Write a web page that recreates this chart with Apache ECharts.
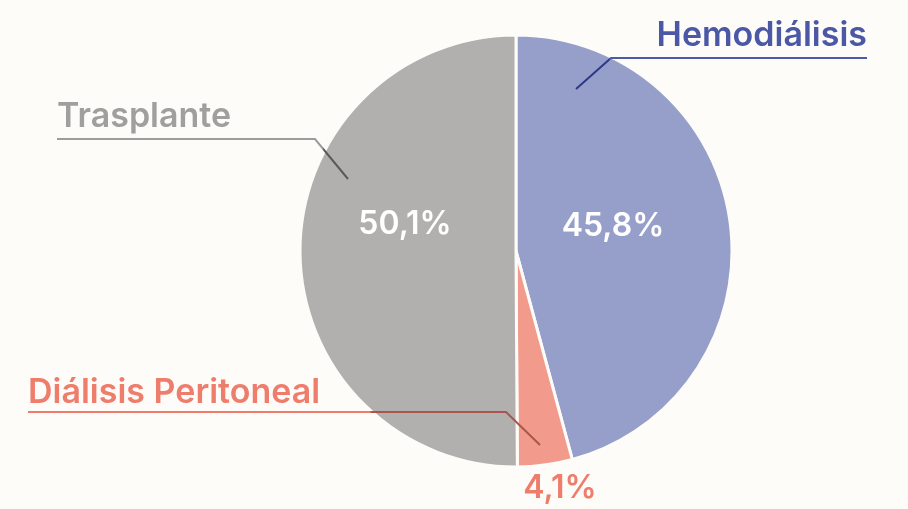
<!DOCTYPE html>
<html>
<head>
<meta charset="utf-8">
<script src="https://cdn.jsdelivr.net/npm/echarts@6/dist/echarts.min.js"></script>
<style>
  html, body { margin: 0; padding: 0; background: #fdfcf9; }
  #chart { width: 908px; height: 509px; }
</style>
</head>
<body>
<div id="chart"></div>
<script>
// datos
const categories = ["Hemodiálisis", "Diálisis Peritoneal", "Trasplante"];
const values = [45.8, 4.1, 50.1];

// estilos
const sliceColors = ["#959fca", "#f29a8b", "#b1b0ae"];
const nameColors = ["#4b58a6", "#ef7d6c", "#a09f9d"];
const lineLight = ["#4b5ba8", "#f07b6a", "#9d9c9a"];
const lineDark = ["#2c3885", "#a8564b", "#5a5a59"];
const bg = "#fdfcf9";

// posiciones de etiquetas (valor)
const valuePos = [[613, 226], [560, 488], [405, 224]];
// posiciones de etiquetas (nombre) y líneas guía
const namePos = [
  { x: 867, y: 36, align: "right", line: [[576, 89], [611, 58], [867, 58]], split: 0.12 },
  { x: 28, y: 393, align: "left", line: [[540, 445], [506, 412], [28, 412]], split: 0.33 },
  { x: 57, y: 117, align: "left", line: [[348, 179], [315, 139], [57, 139]], split: 0.09 },
];

const chart = echarts.init(document.getElementById("chart"));

const fmt = (v) => v.toFixed(1).replace(".", ",") + "%";

const lineGradient = (i) => {
  const s = namePos[i].split;
  // la parte dentro de la porción se ve más oscura
  if (namePos[i].align === "right") {
    return new echarts.graphic.LinearGradient(0, 0, 1, 0, [
      { offset: 0, color: lineDark[i] },
      { offset: s, color: lineDark[i] },
      { offset: s + 0.005, color: lineLight[i] },
      { offset: 1, color: lineLight[i] },
    ]);
  }
  return new echarts.graphic.LinearGradient(0, 0, 1, 0, [
    { offset: 0, color: lineLight[i] },
    { offset: 1 - s - 0.005, color: lineLight[i] },
    { offset: 1 - s, color: lineDark[i] },
    { offset: 1, color: lineDark[i] },
  ]);
};

const baseData = categories.map((name, i) => ({
  name: name,
  value: values[i],
  itemStyle: { color: sliceColors[i] },
}));

const nameData = categories.map((name, i) => ({
  name: name,
  value: values[i],
  label: { color: nameColors[i] },
  labelLine: { lineStyle: { color: lineGradient(i), width: 2 } },
}));

const option = {
  backgroundColor: bg,
  animation: false,
  series: [
    {
      type: "pie",
      z: 2,
      center: [516, 251],
      radius: 216,
      startAngle: 90,
      clockwise: true,
      avoidLabelOverlap: false,
      silent: true,
      itemStyle: { borderColor: bg, borderWidth: 3 },
      label: {
        show: true,
        position: "inside",
        fontFamily: "Inter",
        fontWeight: 600,
        fontSize: 32,
        color: "#ffffff",
        formatter: (p) => fmt(p.value),
      },
      labelLine: { show: false },
      labelLayout: (p) => {
        const pos = valuePos[p.dataIndex];
        return { x: pos[0], y: pos[1], align: "center", verticalAlign: "middle" };
      },
      data: baseData.map((d, i) =>
        i === 1 ? Object.assign({}, d, { label: { color: "#ef7d6c" } }) : d
      ),
    },
    {
      type: "pie",
      z: 5,
      center: [516, 251],
      radius: 216,
      startAngle: 90,
      clockwise: true,
      avoidLabelOverlap: false,
      silent: true,
      itemStyle: { color: "rgba(0,0,0,0)", borderWidth: 0 },
      emphasis: { disabled: true },
      label: {
        show: true,
        position: "outside",
        fontFamily: "Inter",
        fontWeight: 600,
        fontSize: 34,
        formatter: "{b}",
      },
      labelLine: { show: true, length: 10, length2: 10 },
      labelLayout: (p) => {
        const n = namePos[p.dataIndex];
        return {
          x: n.x,
          y: n.y,
          align: n.align,
          verticalAlign: "middle",
          labelLinePoints: n.line,
        };
      },
      data: nameData,
    },
  ],
};

chart.setOption(option);
</script>
</body>
</html>
